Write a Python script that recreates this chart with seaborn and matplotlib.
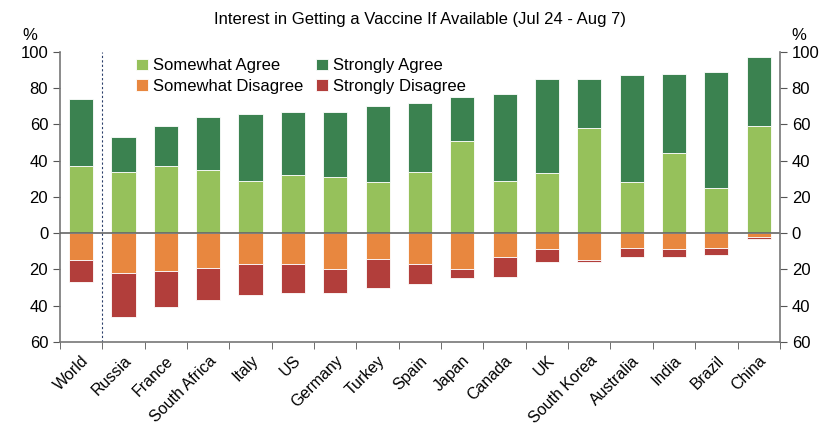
import seaborn as sns
import matplotlib.pyplot as plt
import matplotlib.ticker as mticker
import numpy as np
import pandas as pd

# survey values (% of respondents)
countries = ['World', 'Russia', 'France', 'South Africa', 'Italy', 'US', 'Germany', 'Turkey',
             'Spain', 'Japan', 'Canada', 'UK', 'South Korea', 'Australia', 'India', 'Brazil', 'China']
somewhat_agree = [37, 34, 37, 35, 29, 32, 31, 28, 34, 51, 29, 33, 58, 28, 44, 25, 59]
strongly_agree = [37, 19, 22, 29, 37, 35, 36, 42, 38, 24, 48, 52, 27, 59, 44, 64, 38]
somewhat_disagree = [15, 22, 21, 19, 17, 17, 20, 14, 17, 20, 13, 9, 15, 8, 9, 8, 2]
strongly_disagree = [12, 24, 20, 18, 17, 16, 13, 16, 11, 5, 11, 7, 1, 5, 4, 4, 1]

df = pd.DataFrame({'country': countries,
                   'sw_agree': somewhat_agree, 'st_agree': strongly_agree,
                   'sw_dis': [-v for v in somewhat_disagree], 'st_dis': [-v for v in strongly_disagree]})

c_swa = '#96c15b'
c_sta = '#3b8250'
c_swd = '#e8873f'
c_std = '#b23e3b'

plt.rcParams['font.family'] = ['Liberation Sans', 'DejaVu Sans']
fig = plt.figure(figsize=(8.4, 4.4), dpi=100)
ax = fig.add_axes([0.0714, 0.223, 0.857, 0.659])

w = 0.57
sns.barplot(data=df, x='country', y='sw_agree', color=c_swa, width=w, ax=ax,
            edgecolor='white', linewidth=0.6, saturation=1, label='Somewhat Agree')
sns.barplot(data=df, x='country', y='st_agree', color=c_sta, width=w, ax=ax, bottom=df['sw_agree'],
            edgecolor='white', linewidth=0.6, saturation=1, label='Strongly Agree')
sns.barplot(data=df, x='country', y='sw_dis', color=c_swd, width=w, ax=ax,
            edgecolor='white', linewidth=0.6, saturation=1, label='Somewhat Disagree')
sns.barplot(data=df, x='country', y='st_dis', color=c_std, width=w, ax=ax, bottom=df['sw_dis'],
            edgecolor='white', linewidth=0.6, saturation=1, label='Strongly Disagree')

ax.set_xlim(-0.5, len(countries) - 0.5)
ax.set_ylim(-60, 100)
ax.axhline(0, color='#666666', lw=1.2, zorder=5)
ax.axvline(0.5, color='#2b3f6b', lw=0.8, ls=(0, (2, 2)))

ax.set_xlabel('')
ax.set_ylabel('')
ax.set_yticks(np.arange(-60, 101, 20))
absfmt = mticker.FuncFormatter(lambda v, p: f'{abs(int(v))}')
ax.yaxis.set_major_formatter(absfmt)
ax.tick_params(axis='y', labelsize=12, direction='out', length=5, color='#555555')
ax.set_xticks(range(len(countries)))
ax.set_xticklabels(countries, rotation=45, ha='right', rotation_mode='anchor', fontsize=11.5)
ax.tick_params(axis='x', which='major', length=0, pad=8)
ax.set_xticks(np.arange(-0.5, len(countries), 1), minor=True)
ax.tick_params(axis='x', which='minor', length=5, direction='out', color='#555555')

ax.spines['top'].set_visible(False)
ax.spines['right'].set_visible(False)
for s in ['left', 'bottom']:
    ax.spines[s].set_color('#777777')
    ax.spines[s].set_linewidth(1.2)

ax2 = ax.twinx()
ax2.set_ylim(-60, 100)
ax2.set_yticks(np.arange(-60, 101, 20))
ax2.yaxis.set_major_formatter(absfmt)
ax2.tick_params(axis='y', labelsize=12, direction='out', length=5, color='#555555')
for s in ['top', 'left', 'bottom']:
    ax2.spines[s].set_visible(False)
ax2.spines['right'].set_color('#777777')
ax2.spines['right'].set_linewidth(1.2)

fig.text(0.036, 0.91, '%', fontsize=12, ha='center')
fig.text(0.951, 0.91, '%', fontsize=12, ha='center')
fig.text(0.5, 0.945, 'Interest in Getting a Vaccine If Available (Jul 24 - Aug 7)',
         fontsize=12, ha='center')

h, l = ax.get_legend_handles_labels()
order = [0, 2, 1, 3]
ax.legend([h[i] for i in order], [l[i] for i in order], ncol=2, frameon=False,
          loc='upper left', bbox_to_anchor=(0.085, 1.03), fontsize=12,
          handlelength=0.7, handleheight=0.7, handletextpad=0.3,
          columnspacing=0.8, labelspacing=0.35)

fig.savefig('out.png', dpi=100)
